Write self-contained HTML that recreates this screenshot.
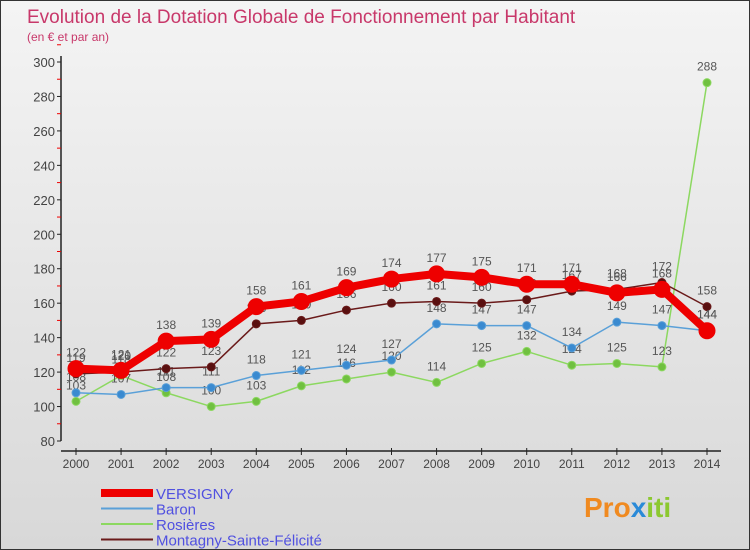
<!DOCTYPE html>
<html><head><meta charset="utf-8"><style>
body{margin:0}
#c{width:750px;height:550px;position:relative;background:linear-gradient(#f4f4f4,#d8d8d8);font-family:"Liberation Sans",sans-serif;border:1px solid #333;box-sizing:border-box;overflow:hidden}
svg text{font-family:"Liberation Sans",sans-serif}
</style></head><body>
<div id="c">
<svg id="s" width="750" height="550">
<text x="26" y="22" font-size="19" fill="#c8386a">Evolution de la Dotation Globale de Fonctionnement par Habitant</text>
<text x="26" y="40" font-size="12" fill="#c8386a">(en € et par an)</text>
<g id="axes"></g><g id="series"></g><g id="legend"></g>
<text x="583" y="516" font-size="28" font-weight="bold" fill="#f08a20">Pro<tspan fill="#2a8ad8">x</tspan><tspan fill="#8cc830">iti</tspan></text>
</svg></div>
<script>
const years=[2000,2001,2002,2003,2004,2005,2006,2007,2008,2009,2010,2011,2012,2013,2014];
const versigny=[122,121,138,139,158,161,169,174,177,175,171,171,166,168,144];
const baron=[108,107,111,111,118,121,124,127,148,147,147,134,149,147,144];
const rosieres=[103,118,108,100,103,112,116,120,114,125,132,124,125,123,288];
const montagny=[119,120,122,123,148,150,156,160,161,160,162,167,168,172,158];
const yTicks=[80,100,120,140,160,180,200,220,240,260,280,300];
const NS="http://www.w3.org/2000/svg";
const X=i=>75+i*(706-75)/14;
const Y=v=>440-(v-80)*(440-61)/220;
function mk(t,a,p){const e=document.createElementNS(NS,t);for(const k in a)e.setAttribute(k,a[k]);p.appendChild(e);return e;}
const ax=document.getElementById('axes');
const yl=mk('line',{x1:60,y1:55,x2:60,y2:440,stroke:'#222','stroke-width':1.5},ax);


yTicks.forEach(v=>{
 mk('line',{x1:56,x2:60,y1:Y(v),y2:Y(v),stroke:'#222'},ax);
 mk('line',{x1:56,x2:60,y1:Y(v+10),y2:Y(v+10),stroke:'#e00'},ax);
 const t=mk('text',{x:54,y:Y(v)+5,'font-size':13,fill:'#444','text-anchor':'end'},ax);t.textContent=v;
 
 
});
const xl=mk('line',{x1:60,y1:450,x2:720,y2:450,stroke:'#222','stroke-width':1.5},ax);


years.forEach((y,i)=>{
 mk('line',{x1:X(i),x2:X(i),y1:447,y2:454,stroke:'#222'},ax);
 const t=mk('text',{x:X(i),y:467,'font-size':12,fill:'#444','text-anchor':'middle'},ax);t.textContent=y;
 
 
});
const sg=document.getElementById('series');
function series(data,name,color,w,r,dot,labels){
 const g=mk('g',{},sg);
 
 
 mk('polyline',{points:data.map((v,i)=>X(i)+','+Y(v)).join(' '),fill:'none',stroke:color,'stroke-width':w,'stroke-linejoin':'round'},g);
 data.forEach((v,i)=>{
  const c=mk('circle',{cx:X(i),cy:Y(v),r:r,fill:dot,stroke:color,'stroke-width':1},g);
  
  
  if(labels){const t=mk('text',{x:X(i),y:Y(v)-12,'font-size':12,fill:'#555','text-anchor':'middle'},g);t.textContent=v;}
 });
}
series(rosieres,'rosieres','#8cd860',1.5,4,'#70c040',true);
series(baron,'baron','#5aa0d8',1.5,4,'#3a8ad0',true);
series(montagny,'montagny','#6a1a1a',1.5,4,'#5a1010',true);
series(versigny,'versigny','#ee0000',8,8,'#ee0000',true);
const lg=document.getElementById('legend');
const items=[['VERSIGNY','#ee0000',8],['Baron','#5aa0d8',2],['Rosières','#8cd860',2],['Montagny-Sainte-Félicité','#6a1a1a',2]];
items.forEach((it,i)=>{
 const y=492+i*15.5;
 const g=mk('g',{},lg);
 
 
 mk('line',{x1:100,x2:152,y1:y,y2:y,stroke:it[1],'stroke-width':it[2]},g);
 const t=mk('text',{x:155,y:y+6,'font-size':15,fill:'#5050e0'},g);t.textContent=it[0];
});
</script>
</body></html>
